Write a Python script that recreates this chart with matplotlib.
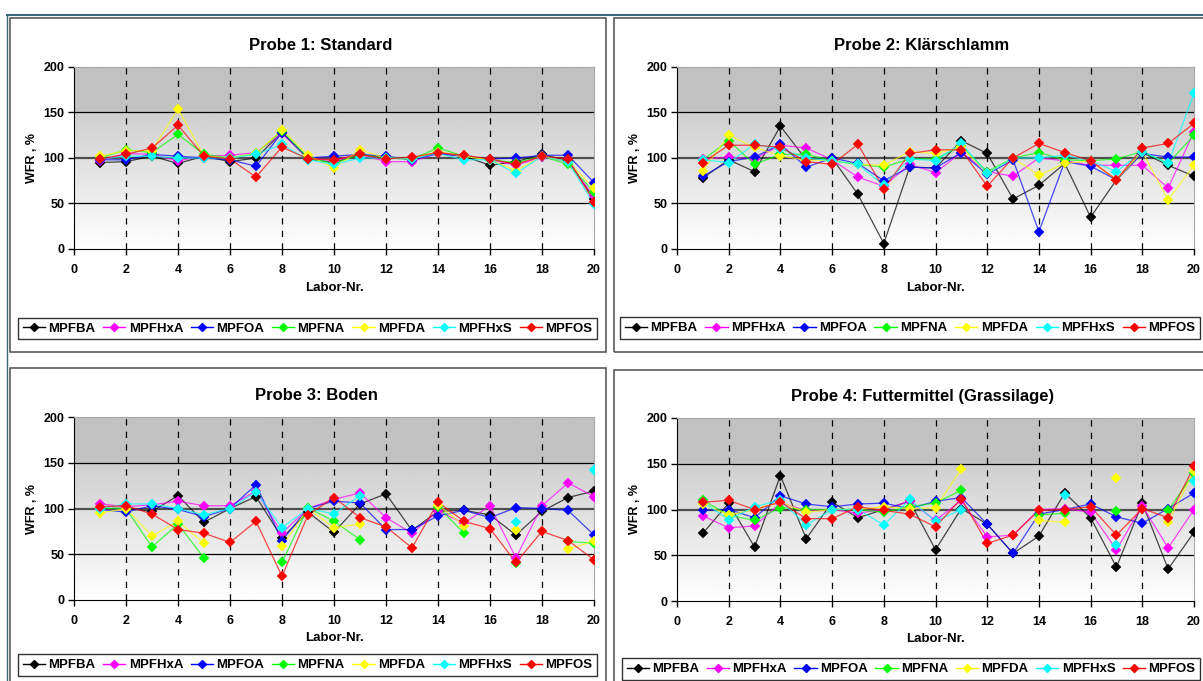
import numpy as np
import matplotlib
matplotlib.use("Agg")
import matplotlib.pyplot as plt
from matplotlib.lines import Line2D
from matplotlib.patches import Rectangle

plt.rcParams["font.family"] = ["Liberation Sans", "DejaVu Sans"]
plt.rcParams["font.weight"] = "bold"

nan = np.nan

# =========================
# DATA
# =========================

labs = list(range(1, 21))
substances = ["MPFBA", "MPFHxA", "MPFOA", "MPFNA", "MPFDA", "MPFHxS", "MPFOS"]
colors = ["#000000", "#ff00ff", "#0000ff", "#00ff00", "#ffff00", "#00ffff", "#ff0000"]
titles = ["Probe 1: Standard", "Probe 2: Klärschlamm", "Probe 3: Boden",
          "Probe 4: Futtermittel (Grassilage)"]

probe1 = [
    [95, 96, 102, 94, 102, 96, 100, 128, 99, 95, 104, 100, 99, 105, 102, 92, 96, 104, 97, 55],
    [97, 105, 104, 97, 102, 103, 106, 127, 100, 97, 104, 96, 96, 105, 102, 98, 92, 101, 96, 58],
    [98, 98, 104, 102, 100, 98, 91, 128, 100, 102, 104, 102, 98, 105, 102, 99, 100, 103, 103, 73],
    [100, 109, 106, 126, 104, 100, 105, 130, 100, 94, 104, 100, 99, 111, 102, 98, 95, 102, 93, 63],
    [102, 108, 108, 154, 102, 100, 105, 131, 103, 89, 109, 100, 99, 107, 102, 98, 86, 102, 96, 67],
    [99, 102, 102, 100, 100, 100, 104, 115, 98, 93, 100, 100, 99, 105, 98, 98, 83, 102, 96, 49],
    [99, 104, 111, 136, 102, 99, 79, 112, 99, 98, 104, 99, 101, 106, 103, 99, 93, 102, 99, 52],
]

probe2 = [
    [78, 98, 85, 135, 98, 100, 60, 6, 90, 89, 119, 105, 55, 70, 94, 35, 76, 106, 92, 80],
    [99, 101, 99, 114, 111, 98, 79, 69, 93, 84, 106, 85, 80, 100, 97, 92, 92, 92, 67, 129],
    [80, 96, 101, 115, 90, 100, 94, 75, 90, 89, 106, 82, 98, 19, 96, 91, 76, 105, 101, 101],
    [98, 119, 93, 104, 104, 97, 93, 90, 99, 99, 113, 85, 100, 106, 98, 97, 99, 107, 94, 125],
    [86, 125, 112, 102, 98, 97, 93, 92, 107, 105, 112, 83, 100, 81, 94, 97, 76, 107, 54, 92],
    [98, 95, 115, 110, 100, 97, 93, 70, 99, 97, 116, 83, 100, 100, 103, 97, 85, 107, 94, 171],
    [95, 114, 114, 112, 96, 93, 115, 66, 105, 109, 109, 69, 100, 116, 106, 97, 76, 111, 116, 138],
]

probe3 = [
    [100, 100, 97, 114, 85, 100, 113, 68, 96, 74, 105, 116, 76, 97, 98, 93, 71, 97, 112, 119],
    [105, 102, 104, 108, 103, 103, 119, 73, 100, 110, 117, 90, 73, 97, 84, 103, 46, 103, 128, 113],
    [99, 96, 103, 99, 91, 100, 126, 65, 100, 108, 106, 77, 77, 92, 98, 90, 101, 100, 98, 71],
    [100, 100, 58, 83, 46, nan, nan, 41, 101, 86, 66, nan, nan, 102, 73, nan, 40, nan, 64, 62],
    [95, 100, 70, 86, 62, nan, nan, 59, 100, 79, 83, nan, nan, 104, 81, nan, 76, nan, 56, 64],
    [100, 105, 105, 100, 93, 100, 118, 79, 100, 94, 114, nan, nan, nan, nan, nan, 85, nan, nan, 142],
    [102, 103, 94, 77, 73, 63, 86, 26, 93, 112, 90, 80, 57, 107, 86, 78, 41, 75, 65, 44],
]

probe4 = [
    [74, 107, 59, 137, 68, 108, 91, 100, 109, 56, 101, 84, 52, 71, 118, 91, 37, 107, 35, 75],
    [93, 80, 82, 107, 99, 100, 96, 100, 109, 88, 110, 70, 72, 100, 101, 97, 56, 104, 58, 100],
    [99, 100, 91, 115, 106, 103, 106, 107, 101, 109, 113, 84, 52, 95, 100, 106, 92, 85, 101, 118],
    [110, 94, 88, 102, 100, 100, 100, 97, 103, 107, 121, nan, nan, 94, 96, nan, 98, nan, 99, 140],
    [106, 94, 100, 108, 97, 100, 100, 103, 101, 102, 144, nan, nan, 88, 86, nan, 134, nan, 86, 142],
    [108, 89, 103, 110, 83, 100, 100, 83, 111, 87, 100, nan, nan, nan, 116, nan, 61, nan, nan, 131],
    [108, 110, 100, 108, 90, 90, 103, 99, 95, 81, 112, 63, 72, 99, 100, 103, 72, 101, 91, 147],
]

probes = [probe1, probe2, probe3, probe4]

# =========================
# LAYOUT (pixels)
# =========================

W, H = 1203, 681
fig = plt.figure(figsize=(W / 100, H / 100), dpi=100)


def fx(x):
    return x / W


def fy(y):
    return 1 - y / H


# panel frame, plot area, title pos, xlabel y, legend box
panels = [
    dict(box=(10, 18, 606, 352), ax=(74, 67, 594, 249), title=(321, 45), xlab=288, leg=(18, 315, 597, 342)),
    dict(box=(614, 18, 1215, 352), ax=(677, 67, 1194, 249), title=(922, 45), xlab=288, leg=(620, 314, 1200, 342)),
    dict(box=(10, 368, 606, 700), ax=(74, 417, 594, 600), title=(316, 396), xlab=638, leg=(18, 651, 597, 679)),
    dict(box=(614, 370, 1215, 700), ax=(677, 418, 1194, 601), title=(923, 396), xlab=639, leg=(622, 655, 1200, 683)),
]

# outer sheet lines
fig.add_artist(Line2D([fx(7), 1], [fy(15), fy(15)], color="#3c6878", lw=1.5))
fig.add_artist(Line2D([fx(7), fx(7)], [fy(15), 0], color="#3c6878", lw=1.0))

# background gradient: flat grey band above 150, fading to white below
rows = np.arange(200)[::-1] + 0.5
grad = np.where(rows[:, None] >= 150, 0.76, 1.0 - (rows[:, None] / 150) * 0.19) * np.ones((1, 2))

for p, data, title in zip(panels, probes, titles):
    bx0, by0, bx1, by1 = p["box"]
    fig.add_artist(Rectangle((fx(bx0), fy(by1)), fx(bx1 - bx0), (by1 - by0) / H,
                             fill=False, edgecolor="#5a5a5a", lw=1.2))

    x0, y0, x1, y1 = p["ax"]
    ax = fig.add_axes([fx(x0), fy(y1), fx(x1 - x0), (y1 - y0) / H])
    ax.imshow(grad, extent=[0, 20, 0, 200], aspect="auto", cmap="gray",
              vmin=0, vmax=1, zorder=0, interpolation="bilinear")

    for yv in [50, 150]:
        ax.axhline(yv, color="black", lw=0.9, zorder=1)
    ax.axhline(100, color="#505050", lw=1.6, zorder=1)
    for xv in range(2, 20, 2):
        ax.axvline(xv, color="black", lw=0.9, dashes=(5, 5), zorder=1)

    for vals, c in zip(data, colors):
        ax.plot(labs, vals, color=c, lw=0.9, alpha=0.7, zorder=2)
        ax.plot(labs, vals, ls="none", marker="D", ms=4.8, mfc=c, mec=c, mew=0.3, zorder=3)

    ax.set_xlim(0, 20)
    ax.set_ylim(0, 200)
    ax.set_xticks(range(0, 21, 2))
    ax.set_yticks(range(0, 201, 50))
    ax.tick_params(direction="out", length=4, width=1, labelsize=9, pad=7, colors="black")
    ax.tick_params(axis="y", pad=3)
    for lab in ax.get_xticklabels() + ax.get_yticklabels():
        lab.set_fontweight("bold")
    ax.spines["left"].set_color("black")
    ax.spines["bottom"].set_color("black")
    ax.spines["top"].set_color("#a8a8a8")
    ax.spines["right"].set_color("#a8a8a8")
    ax.set_ylabel("WFR , %", fontsize=9, fontweight="bold", labelpad=4)

    fig.text(fx(p["title"][0]), fy(p["title"][1]), title, ha="center", va="center",
             fontsize=12, fontweight="bold")
    fig.text(fx((x0 + x1) / 2), fy(p["xlab"]), "Labor-Nr.", ha="center", va="center",
             fontsize=9.5, fontweight="bold")

    handles = [Line2D([], [], color=c, lw=1, marker="D", ms=4, mfc=c, mec=c) for c in colors]
    lx0, ly0, lx1, ly1 = p["leg"]
    leg = fig.legend(handles, substances, loc="center", ncol=7,
                     bbox_to_anchor=(fx(lx0), fy(ly1), fx(lx1 - lx0), (ly1 - ly0) / H),
                     mode="expand", frameon=True, fancybox=False, fontsize=9.5,
                     handlelength=1.7, handletextpad=0.25, columnspacing=0.4,
                     borderpad=0.35, borderaxespad=0)
    leg.get_frame().set_edgecolor("black")
    leg.get_frame().set_linewidth(1.0)
    for t in leg.get_texts():
        t.set_fontweight("bold")

fig.savefig("out.png", dpi=100)
